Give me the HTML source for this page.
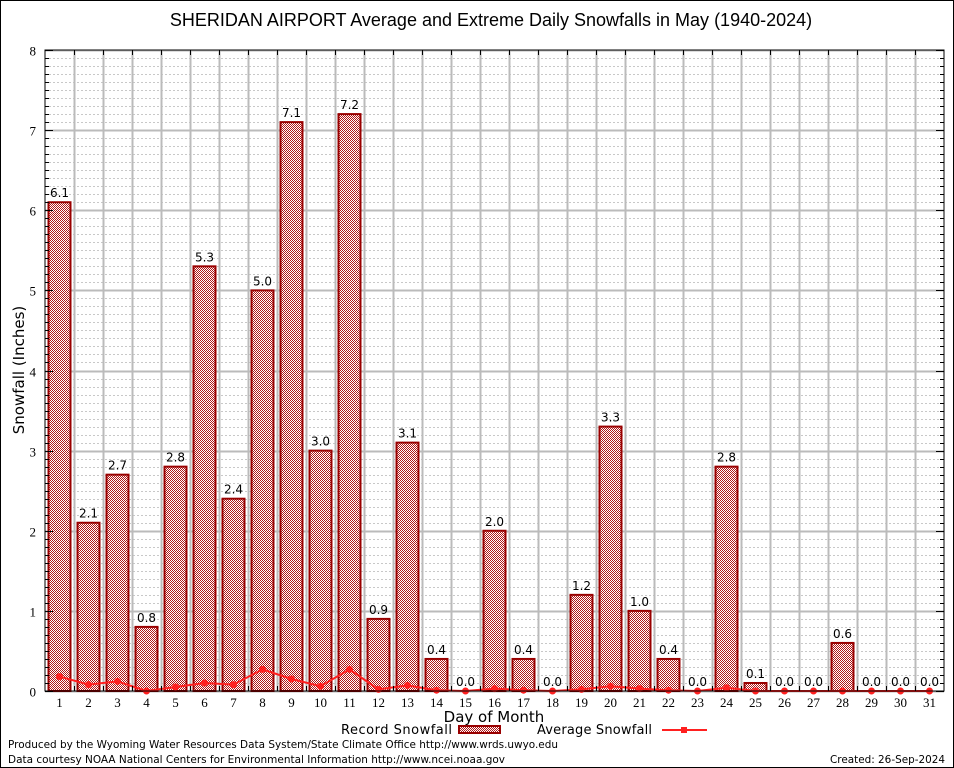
<!DOCTYPE html>
<html><head><meta charset="utf-8"><style>
html,body{margin:0;padding:0;background:#fff}
svg{display:block}
text{font-family:"DejaVu Sans","Liberation Sans",sans-serif}
.tk{font-family:"Liberation Serif","DejaVu Serif",serif;font-size:13px}
.ttl{font-family:"Liberation Sans",sans-serif}
</style></head><body>
<svg id="chart" width="954" height="768" viewBox="0 0 954 768">
<defs>
<pattern id="chk" width="2" height="2" patternUnits="userSpaceOnUse">
<rect width="2" height="2" fill="#fff"/>
<rect width="1" height="1" fill="#b01818"/>
<rect x="1" y="1" width="1" height="1" fill="#b01818"/>
</pattern>
</defs>
<rect x="0.5" y="0.5" width="953" height="767" fill="#fff" stroke="#000"/>
<text class="ttl" x="491" y="26" font-size="18" text-anchor="middle">SHERIDAN AIRPORT Average and Extreme Daily Snowfalls in May (1940-2024)</text>
<text transform="translate(24,370) rotate(-90)" font-size="15" text-anchor="middle">Snowfall (Inches)</text>
<text x="494" y="722" font-size="15" text-anchor="middle">Day of Month</text>
<g id="grid"></g>
<g id="bars"></g>
<g id="avg"></g>
<g id="axes"></g>
<g>
<text x="341" y="734" font-size="13" textLength="111">Record Snowfall</text>
<rect x="459" y="726" width="41" height="7" fill="url(#chk)" stroke="#990000" stroke-width="2"/>
<text x="537" y="734" font-size="13" textLength="115">Average Snowfall</text>
<line x1="662" y1="730" x2="707" y2="730" stroke="#ff2020" stroke-width="2"/>
<rect x="681" y="727" width="6" height="6" fill="#ff2020"/>
</g>
<text x="8" y="748" font-size="11" textLength="550" lengthAdjust="spacingAndGlyphs">Produced by the Wyoming Water Resources Data System/State Climate Office http://www.wrds.uwyo.edu</text>
<text x="8" y="763" font-size="11" textLength="497" lengthAdjust="spacingAndGlyphs">Data courtesy NOAA National Centers for Environmental Information http://www.ncei.noaa.gov</text>
<text x="830" y="763" font-size="11" textLength="115" lengthAdjust="spacingAndGlyphs">Created: 26-Sep-2024</text>
</svg>
<script>
const days = [1,2,3,4,5,6,7,8,9,10,11,12,13,14,15,16,17,18,19,20,21,22,23,24,25,26,27,28,29,30,31];
const recordValues = [6.1,2.1,2.7,0.8,2.8,5.3,2.4,5.0,7.1,3.0,7.2,0.9,3.1,0.4,0.0,2.0,0.4,0.0,1.2,3.3,1.0,0.4,0.0,2.8,0.1,0.0,0.0,0.6,0.0,0.0,0.0];
const averageValues = [0.18,0.08,0.12,0.0,0.05,0.1,0.08,0.27,0.15,0.06,0.27,0.02,0.07,0.01,0.0,0.03,0.01,0.0,0.02,0.06,0.03,0.01,0.0,0.04,0.0,0.0,0.0,0.0,0.0,0.0,0.0];
const yTicks = [0,1,2,3,4,5,6,7,8];

const NS="http://www.w3.org/2000/svg";
const L=45,R=944,T=50,B=691,YMAX=8;
const slot=(R-L)/days.length;
const xC=i=>L+slot*(i+0.5);
const y=v=>B-(v/YMAX)*(B-T);
function mk(tag,attrs,parent){const e=document.createElementNS(NS,tag);for(const k in attrs)e.setAttribute(k,attrs[k]);parent.appendChild(e);return e;}
const grid=document.getElementById('grid'),bars=document.getElementById('bars'),avg=document.getElementById('avg'),axes=document.getElementById('axes');

for(let m=1;m<YMAX*10;m++){if(m%10===0)continue;const yy=Math.round(y(m/10))+0.5;
const g=mk('line',{x1:L,x2:R,y1:yy,y2:yy,stroke:'#c8c8c8','stroke-dasharray':'2,2','stroke-width':1},grid);

}
yTicks.forEach(t=>{const yy=Math.round(y(t))+0.5;
const g=mk('line',{x1:L,x2:R,y1:yy,y2:yy,stroke:'#bbbbbb','stroke-width':2},grid);


const tx=mk('text',{x:36,y:yy+5,'text-anchor':'end',class:'tk'},axes);tx.textContent=t;

});
for(let i=1;i<days.length;i++){const xx=Math.round(L+slot*i)+0.5;
const g=mk('line',{x1:xx,x2:xx,y1:T,y2:B,stroke:'#bbbbbb','stroke-width':2},grid);

}

const bw=22;
days.forEach((d,i)=>{const v=recordValues[i];const top=y(v);
if(v>0){const r=mk('rect',{x:xC(i)-bw/2,y:top,width:bw,height:B-top,fill:'url(#chk)',stroke:'#990000','stroke-width':2},bars);

}
const lb=mk('text',{x:xC(i),y:top-5,'text-anchor':'middle','font-size':12},bars);lb.textContent=v.toFixed(1);


const tx=mk('text',{x:xC(i),y:B+16,'text-anchor':'middle',class:'tk'},axes);tx.textContent=d;

});

const pts=averageValues.map((v,i)=>xC(i)+','+y(v)).join(' ');
const pl=mk('polyline',{points:pts,fill:'none',stroke:'#ff2020','stroke-width':2},avg);


averageValues.forEach((v,i)=>{const c=mk('circle',{cx:xC(i),cy:y(v),r:3.5,fill:'#ff2020'},avg);

});

const f=mk('rect',{x:L,y:T,width:R-L,height:B-T,fill:'none',stroke:'#000','stroke-width':1},axes);


for(let m=0;m<=YMAX*10;m++){const yy=Math.round(y(m/10))+0.5;const len=m%10===0?8:4;
mk('line',{x1:L,x2:L+len,y1:yy,y2:yy,stroke:'#000'},axes);mk('line',{x1:R,x2:R-len,y1:yy,y2:yy,stroke:'#000'},axes);}
for(let i=1;i<days.length;i++){const xx=Math.round(L+slot*i)+0.5;
mk('line',{x1:xx,x2:xx,y1:B,y2:B-5,stroke:'#000'},axes);mk('line',{x1:xx,x2:xx,y1:T,y2:T+5,stroke:'#000'},axes);}
</script>
</body></html>
